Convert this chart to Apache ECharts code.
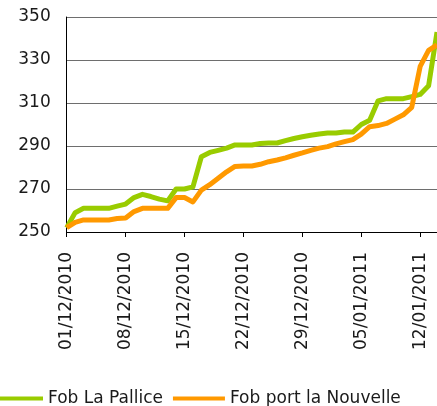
<!DOCTYPE html>
<html>
<head>
<meta charset="utf-8">
<script src="https://cdn.jsdelivr.net/npm/echarts@6/dist/echarts.min.js"></script>
<style>
  html, body { margin: 0; padding: 0; background: #fff; }
  #chart { width: 437px; height: 406px; }
</style>
</head>
<body>
<div id="chart"></div>
<script>
// daily dates, 01/12/2010 -> 14/01/2011
const dates = [
  '01/12/2010', '02/12/2010', '03/12/2010', '04/12/2010', '05/12/2010', '06/12/2010', '07/12/2010',
  '08/12/2010', '09/12/2010', '10/12/2010', '11/12/2010', '12/12/2010', '13/12/2010', '14/12/2010',
  '15/12/2010', '16/12/2010', '17/12/2010', '18/12/2010', '19/12/2010', '20/12/2010', '21/12/2010',
  '22/12/2010', '23/12/2010', '24/12/2010', '25/12/2010', '26/12/2010', '27/12/2010', '28/12/2010',
  '29/12/2010', '30/12/2010', '31/12/2010', '01/01/2011', '02/01/2011', '03/01/2011', '04/01/2011',
  '05/01/2011', '06/01/2011', '07/01/2011', '08/01/2011', '09/01/2011', '10/01/2011', '11/01/2011',
  '12/01/2011', '13/01/2011', '14/01/2011'
]

const laPallice = [
  252, 259, 261, 261, 261, 261, 262,
  263, 266, 267.5, 266.5, 265.3, 264.5, 270,
  270, 271, 285, 287, 288, 289, 290.5,
  290.5, 290.5, 291.2, 291.4, 291.4, 292.5, 293.5,
  294.3, 295, 295.6, 296, 296, 296.5, 296.5,
  300, 302, 311, 312, 312, 312, 313,
  314, 318, 343
]

const portNouvelle = [
  252, 254.5, 255.6, 255.6, 255.6, 255.6, 256.3,
  256.5, 259.5, 261, 261, 261, 261, 266,
  266, 264, 269.5, 272, 275, 278, 280.5,
  280.7, 280.7, 281.5, 282.7, 283.5, 284.5, 285.7,
  286.8, 288, 289, 289.7, 291, 292, 293,
  295.5, 299, 299.5, 300.5, 302.5, 304.5, 308,
  327, 334.5, 337
]

const yTicks = { min: 250, max: 350, step: 20 }

const chart = echarts.init(document.getElementById('chart'), null, { renderer: 'canvas' })
const font = 'DejaVu Sans'

chart.setOption({
  animation: false,
  grid: { left: 66.7, right: 0, top: 17, bottom: 174 },
  legend: {
    left: -14,
    top: 385,
    itemWidth: 52,
    itemHeight: 4,
    itemGap: 10,
    icon: 'rect',
    textStyle: { fontFamily: font, fontSize: 17, color: '#1a1a1a' },
    data: ['Fob La Pallice', 'Fob port la Nouvelle']
  },
  xAxis: {
    type: 'category',
    data: dates,
    boundaryGap: false,
    axisLine: { lineStyle: { color: '#000', width: 1 } },
    axisTick: { show: true, interval: 6, length: 5, lineStyle: { color: '#000' } },
    axisLabel: {
      interval: 6,
      rotate: 90,
      margin: 20,
      fontFamily: font,
      fontSize: 17,
      color: '#1a1a1a'
    },
    splitLine: { show: false }
  },
  yAxis: {
    type: 'value',
    min: yTicks.min,
    max: yTicks.max,
    interval: yTicks.step,
    axisLine: { show: true, lineStyle: { color: '#000', width: 1 } },
    axisTick: { show: false },
    axisLabel: { margin: 16, fontFamily: font, fontSize: 17, color: '#1a1a1a' },
    splitLine: { lineStyle: { color: '#6e6e6e', width: 1 } }
  },
  series: [
    {
      name: 'Fob La Pallice',
      type: 'line',
      data: laPallice,
      showSymbol: false,
      color: '#99cc00',
      lineStyle: { width: 5, color: '#99cc00', join: 'round' },
      z: 3
    },
    {
      name: 'Fob port la Nouvelle',
      type: 'line',
      data: portNouvelle,
      showSymbol: false,
      color: '#ff9900',
      lineStyle: { width: 5, color: '#ff9900', join: 'round' },
      z: 4
    }
  ]
})
</script>
</body>
</html>
